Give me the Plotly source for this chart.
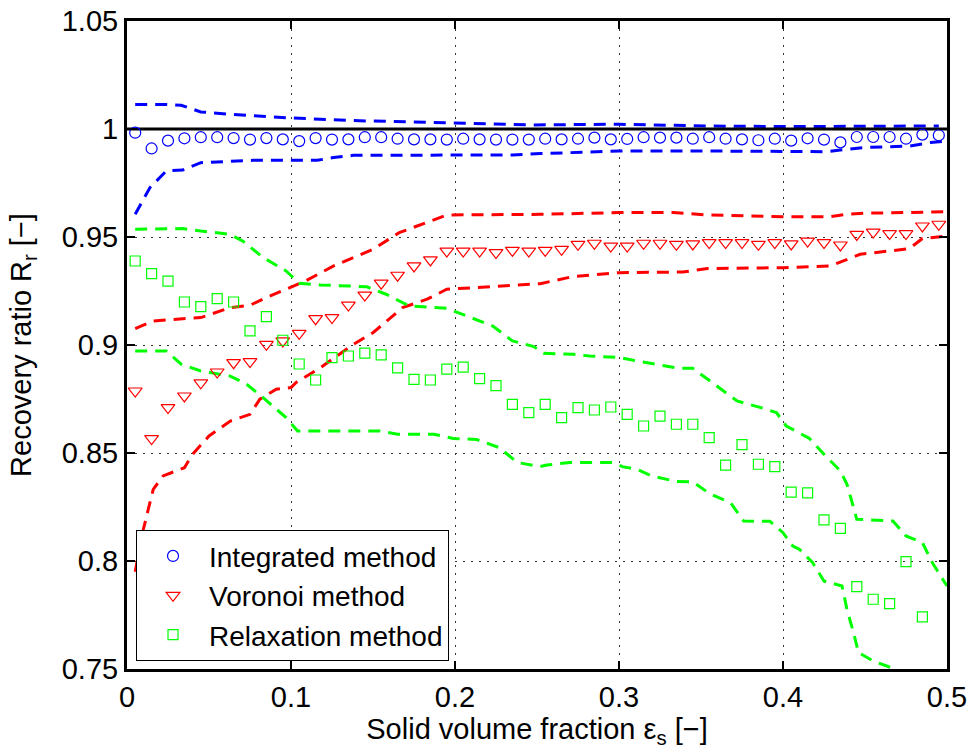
import plotly.graph_objects as go

# ---- data ----
x_pts = [0.005, 0.015, 0.025, 0.035, 0.045, 0.055, 0.065, 0.075, 0.085, 0.095,
         0.105, 0.115, 0.125, 0.135, 0.145, 0.155, 0.165, 0.175, 0.185, 0.195,
         0.205, 0.215, 0.225, 0.235, 0.245, 0.255, 0.265, 0.275, 0.285, 0.295,
         0.305, 0.315, 0.325, 0.335, 0.345, 0.355, 0.365, 0.375, 0.385, 0.395,
         0.405, 0.415, 0.425, 0.435, 0.445, 0.455, 0.465, 0.475, 0.485, 0.495]

integrated_y = [0.9983, 0.9910, 0.9946, 0.9957, 0.9962, 0.9962, 0.9958, 0.9951, 0.9958, 0.9952,
                0.9944, 0.9958, 0.9951, 0.9952, 0.9962, 0.9962, 0.9955, 0.9952, 0.9952, 0.9951,
                0.9955, 0.9952, 0.9951, 0.9951, 0.9951, 0.9955, 0.9952, 0.9955, 0.9960, 0.9952,
                0.9954, 0.9962, 0.9960, 0.9960, 0.9955, 0.9962, 0.9955, 0.9952, 0.9948, 0.9955,
                0.9946, 0.9957, 0.9951, 0.9938, 0.9963, 0.9963, 0.9963, 0.9955, 0.9974, 0.9971]

voronoi_y = [0.8787, 0.8567, 0.8710, 0.8764, 0.8825, 0.8875, 0.8918, 0.8923, 0.9003, 0.9019,
             0.9054, 0.9122, 0.9127, 0.9185, 0.9231, 0.9286, 0.9323, 0.9366, 0.9394, 0.9435,
             0.9435, 0.9435, 0.9428, 0.9438, 0.9435, 0.9438, 0.9443, 0.9466, 0.9471, 0.9458,
             0.9458, 0.9471, 0.9471, 0.9466, 0.9468, 0.9474, 0.9474, 0.9474, 0.9466, 0.9474,
             0.9468, 0.9481, 0.9474, 0.9463, 0.9512, 0.9523, 0.9516, 0.9516, 0.9551, 0.9559]

relaxation_y = [0.9389, 0.9330, 0.9296, 0.9199, 0.9178, 0.9215, 0.9199, 0.9065, 0.9131, 0.9022,
                0.8912, 0.8838, 0.8942, 0.8949, 0.8962, 0.8954, 0.8894, 0.8841, 0.8838, 0.8888,
                0.8898, 0.8844, 0.8812, 0.8725, 0.8687, 0.8725, 0.8664, 0.8710, 0.8699, 0.8713,
                0.8679, 0.8625, 0.8671, 0.8633, 0.8633, 0.8571, 0.8444, 0.8539, 0.8448, 0.8437,
                0.8319, 0.8315, 0.8190, 0.8151, 0.7881, 0.7823, 0.7803, 0.7997, 0.7741, None]

integrated_up_x = [0.005, 0.024, 0.033, 0.045, 0.063, 0.087, 0.100, 0.138, 0.200, 0.247,
                   0.300, 0.354, 0.402, 0.440, 0.495]
integrated_up_y = [1.0114, 1.0114, 1.0110, 1.0079, 1.0068, 1.0057, 1.0051, 1.0039, 1.0026, 1.0019,
                   1.0022, 1.0014, 1.0011, 1.0011, 1.0014]
integrated_lo_x = [0.005, 0.014, 0.024, 0.034, 0.045, 0.077, 0.116, 0.126, 0.138, 0.200,
                   0.235, 0.252, 0.300, 0.354, 0.400, 0.427, 0.439, 0.449, 0.477, 0.490, 0.500]
integrated_lo_y = [0.9605, 0.9729, 0.9806, 0.9810, 0.9844, 0.9855, 0.9855, 0.9868, 0.9878, 0.9880,
                   0.9880, 0.9886, 0.9898, 0.9898, 0.9894, 0.9895, 0.9906, 0.9914, 0.9921, 0.9937, 0.9944]

voronoi_up_x = [0.005, 0.016, 0.034, 0.045, 0.063, 0.075, 0.085, 0.100, 0.109, 0.126,
                0.136, 0.150, 0.166, 0.185, 0.195, 0.252, 0.300, 0.333, 0.354, 0.400,
                0.429, 0.439, 0.449, 0.500]
voronoi_up_y = [0.9076, 0.9111, 0.9122, 0.9127, 0.9173, 0.9184, 0.9220, 0.9266, 0.9297, 0.9366,
                0.9397, 0.9443, 0.9520, 0.9574, 0.9602, 0.9605, 0.9613, 0.9613, 0.9602, 0.9594,
                0.9594, 0.9605, 0.9610, 0.9617]
voronoi_lo_x = [0.005, 0.009, 0.013, 0.016, 0.022, 0.035, 0.040, 0.050, 0.063, 0.075,
                0.081, 0.091, 0.100, 0.103, 0.118, 0.138, 0.150, 0.168, 0.183, 0.195,
                0.252, 0.272, 0.300, 0.339, 0.354, 0.400, 0.429, 0.439, 0.447, 0.477,
                0.485, 0.500]
voronoi_lo_y = [0.7950, 0.8116, 0.8240, 0.8332, 0.8394, 0.8432, 0.8494, 0.8579, 0.8648, 0.8679,
                0.8749, 0.8795, 0.8803, 0.8826, 0.8895, 0.9003, 0.9057, 0.9173, 0.9212, 0.9258,
                0.9284, 0.9317, 0.9335, 0.9338, 0.9354, 0.9358, 0.9366, 0.9397, 0.9420, 0.9446,
                0.9493, 0.9505]

relaxation_up_x = [0.005, 0.024, 0.034, 0.045, 0.063, 0.071, 0.083, 0.097, 0.105, 0.118,
                   0.146, 0.158, 0.172, 0.195, 0.205, 0.223, 0.235, 0.248, 0.254, 0.272,
                   0.282, 0.300, 0.313, 0.337, 0.345, 0.360, 0.372, 0.388, 0.396, 0.402,
                   0.416, 0.425, 0.435, 0.439, 0.445, 0.467, 0.475, 0.485, 0.491, 0.500]
relaxation_up_y = [0.9536, 0.9536, 0.9539, 0.9528, 0.9512, 0.9479, 0.9405, 0.9343, 0.9286, 0.9278,
                   0.9270, 0.9235, 0.9181, 0.9170, 0.9142, 0.9088, 0.9019, 0.8993, 0.8962, 0.8957,
                   0.8949, 0.8942, 0.8923, 0.8892, 0.8892, 0.8810, 0.8741, 0.8707, 0.8687, 0.8625,
                   0.8568, 0.8494, 0.8417, 0.8355, 0.8193, 0.8185, 0.8116, 0.8085, 0.7993, 0.7884]
relaxation_lo_x = [0.005, 0.024, 0.033, 0.045, 0.063, 0.067, 0.073, 0.083, 0.097, 0.104,
                   0.154, 0.165, 0.187, 0.199, 0.213, 0.227, 0.238, 0.252, 0.256, 0.270,
                   0.296, 0.302, 0.311, 0.320, 0.335, 0.345, 0.355, 0.368, 0.376, 0.392,
                   0.400, 0.406, 0.410, 0.418, 0.425, 0.436, 0.439, 0.443, 0.446, 0.455,
                   0.466, 0.475]
relaxation_lo_y = [0.8972, 0.8972, 0.8911, 0.8880, 0.8856, 0.8840, 0.8818, 0.8756, 0.8664, 0.8602,
                   0.8602, 0.8587, 0.8587, 0.8567, 0.8563, 0.8525, 0.8456, 0.8437, 0.8444, 0.8456,
                   0.8456, 0.8437, 0.8424, 0.8394, 0.8368, 0.8367, 0.8313, 0.8270, 0.8185, 0.8184,
                   0.8131, 0.8069, 0.8054, 0.7993, 0.7907, 0.7884, 0.7776, 0.7669, 0.7576, 0.7537,
                   0.7506, 0.7450]

ref_x = [0.0, 0.5]
ref_y = [1.0, 1.0]

x_ticks = [0, 0.1, 0.2, 0.3, 0.4, 0.5]
x_ticklabels = ["0", "0.1", "0.2", "0.3", "0.4", "0.5"]
y_ticks = [0.75, 0.8, 0.85, 0.9, 0.95, 1.0, 1.05]
y_ticklabels = ["0.75", "0.8", "0.85", "0.9", "0.95", "1", "1.05"]

# ---- styles ----
FONT = "Liberation Sans, Arial, sans-serif"
BLUE, RED, GREEN = "#0000ff", "#ff0000", "#00ff00"
DASH = "12px,8px"

fig = go.Figure()

for xs, ys, c in [(integrated_up_x, integrated_up_y, BLUE), (integrated_lo_x, integrated_lo_y, BLUE),
                  (voronoi_up_x, voronoi_up_y, RED), (voronoi_lo_x, voronoi_lo_y, RED),
                  (relaxation_up_x, relaxation_up_y, GREEN), (relaxation_lo_x, relaxation_lo_y, GREEN)]:
    fig.add_trace(go.Scatter(x=xs, y=ys, mode="lines", showlegend=False, hoverinfo="skip",
                             line=dict(color=c, width=3, dash=DASH)))

fig.add_trace(go.Scatter(x=ref_x, y=ref_y, mode="lines", showlegend=False,
                         line=dict(color="black", width=3)))

fig.add_trace(go.Scatter(x=x_pts, y=integrated_y, mode="markers", name="Integrated method",
                         marker=dict(symbol="circle-open", size=11, color=BLUE, line=dict(width=1.2))))
fig.add_trace(go.Scatter(x=x_pts, y=voronoi_y, mode="markers", name="Voronoi method",
                         marker=dict(symbol="triangle-down-open", size=12, color=RED, line=dict(width=1.2))))
fig.add_trace(go.Scatter(x=x_pts, y=relaxation_y, mode="markers", name="Relaxation method",
                         marker=dict(symbol="square-open", size=10, color=GREEN, line=dict(width=1.2))))

axis_common = dict(showline=True, linecolor="black", linewidth=3, mirror="ticks",
                   ticks="inside", ticklen=8, tickwidth=2, tickcolor="black",
                   showgrid=True, gridcolor="#333333", gridwidth=1, griddash="2px,6px",
                   zeroline=False, ticklabeloverflow="allow",
                   tickfont=dict(family=FONT, size=29, color="black"))

fig.update_xaxes(range=[0, 0.5], tickvals=x_ticks, ticktext=x_ticklabels,
                 title=dict(text="Solid volume fraction ε<sub>s</sub> [−]",
                            font=dict(family=FONT, size=29, color="black"), standoff=6),
                 **axis_common)
fig.update_yaxes(range=[0.75, 1.05], tickvals=y_ticks, ticktext=y_ticklabels,
                 title=dict(text="Recovery ratio R<sub>r</sub> [−]",
                            font=dict(family=FONT, size=29, color="black"), standoff=22),
                 **axis_common)

fig.update_layout(
    width=971, height=754,
    margin=dict(l=127, r=24, t=21, b=85, autoexpand=False),
    paper_bgcolor="white", plot_bgcolor="white",
    font=dict(family=FONT, color="black"),
    legend=dict(x=0.011, y=0.012, xanchor="left", yanchor="bottom",
                bgcolor="white", bordercolor="black", borderwidth=1,
                font=dict(family=FONT, size=28, color="black"),
                itemwidth=62, tracegroupgap=0),
)

# remove the default 8px page margin so the figure fills the window exactly
fig.write_html("out.html", config={"displayModeBar": False},
               post_script="document.body.style.margin='0';")
